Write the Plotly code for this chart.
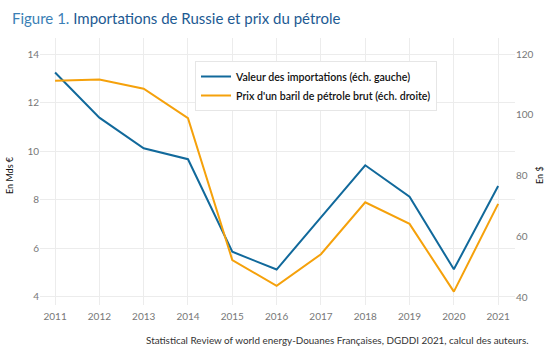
import plotly.graph_objects as go

years = [2011, 2012, 2013, 2014, 2015, 2016, 2017, 2018, 2019, 2020, 2021]
imports_bn_eur = [13.24, 11.38, 10.12, 9.67, 5.86, 5.13, 7.28, 9.42, 8.13, 5.14, 8.57]
oil_price_usd = [111.2, 111.6, 108.6, 98.9, 52.2, 43.7, 54.1, 71.2, 64.1, 41.8, 70.7]
left_ticks = [4, 6, 8, 10, 12, 14]
right_ticks = [40, 60, 80, 100, 120]

BLUE = "#11699b"
ORANGE = "#f5a10b"
FONT = "Lato"

PW, PH = 475, 267  # plot area size in px (for paper-coordinate placement)

fig = go.Figure()
fig.add_trace(go.Scatter(x=years, y=imports_bn_eur, mode="lines",
                         name="Valeur des importations (éch. gauche)",
                         line=dict(color=BLUE, width=2)))
fig.add_trace(go.Scatter(x=years, y=oil_price_usd, mode="lines",
                         name="Prix d'un baril de pétrole brut (éch. droite)",
                         line=dict(color=ORANGE, width=2), yaxis="y2"))

fig.update_layout(
    width=550, height=353,
    margin=dict(l=40, r=35, t=38, b=48, autoexpand=False),
    paper_bgcolor="white", plot_bgcolor="white",
    font=dict(family=FONT, size=10, color="#777777"),
    showlegend=True,
    legend=dict(x=(195 - 40) / PW, y=(305 - 61) / PH, xanchor="left", yanchor="top",
                bgcolor="white", bordercolor="#e6e6e6", borderwidth=1,
                itemwidth=30,
                font=dict(family=FONT, size=10.6, color="#111111", weight=600)),
    xaxis=dict(range=[2010.66, 2021.38], tickvals=years, ticktext=[str(y) for y in years],
               showgrid=True, gridcolor="#ececec", gridwidth=1, zeroline=False,
               showline=False, ticks="", automargin=False, ticklabelstandoff=4,
               tickfont=dict(size=10, color="#777777")),
    yaxis=dict(range=[3.67, 14.66], tickvals=left_ticks, showgrid=True, gridcolor="#ececec",
               zeroline=False, showline=False, ticks="", automargin=False,
               tickfont=dict(size=10, color="#777777")),
    yaxis2=dict(range=[37.4, 125.3], tickvals=right_ticks, overlaying="y", side="right",
                showgrid=False, zeroline=False, showline=False, ticks="", automargin=False,
                tickfont=dict(size=10, color="#777777")),
    annotations=[
        dict(text="<span style='color:#3b7fb6'>Figure 1.</span> "
                  "<span style='color:#1d5a93'>Importations de Russie et prix du pétrole</span>",
             xref="paper", yref="paper", x=-30 / PW, y=1 + 20 / PH, xanchor="left", yanchor="middle",
             showarrow=False, font=dict(family=FONT, size=15)),
        dict(text="Statistical Review of world energy-Douanes Françaises, DGDDI 2021, calcul des auteurs.",
             xref="paper", yref="paper", x=1 + 16 / PW, y=-35 / PH, xanchor="right", yanchor="middle",
             showarrow=False, font=dict(family=FONT, size=9.9, color="#333333")),
        dict(text="En Mds €", xref="paper", yref="paper", x=-30 / PW, y=(305 - 175) / PH,
             xanchor="center", yanchor="middle", textangle=-90, showarrow=False,
             font=dict(family=FONT, size=9, color="#111111")),
        dict(text="En $", xref="paper", yref="paper", x=1 + 25 / PW, y=(305 - 175) / PH,
             xanchor="center", yanchor="middle", textangle=-90, showarrow=False,
             font=dict(family=FONT, size=9, color="#111111")),
    ],
)

fig.write_html("out.html")
